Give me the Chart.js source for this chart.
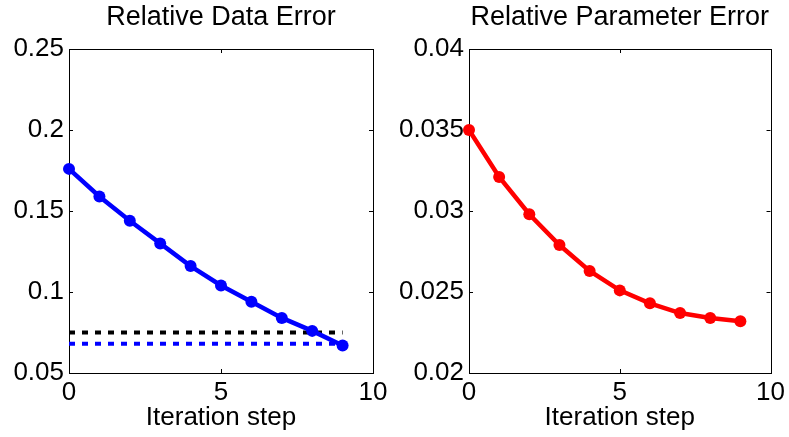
<!DOCTYPE html>
<html>
<head>
<meta charset="utf-8">
<script src="https://cdn.jsdelivr.net/npm/chart.js@4.4.0/dist/chart.umd.min.js"></script>
<style>
  html, body { margin: 0; padding: 0; background: #fff; }
  body { width: 789px; height: 437px; position: relative; overflow: hidden; }
  .box { position: absolute; top: 0; width: 400px; height: 437px; }
  #left { left: 0; }
  #right { left: 389px; }
</style>
</head>
<body>
<div class="box" id="left"><canvas id="chart-data"></canvas></div>
<div class="box" id="right"><canvas id="chart-param"></canvas></div>
<script>
'use strict';

// Values
var steps = [0, 1, 2, 3, 4, 5, 6, 7, 8, 9];
var dataError = [0.176, 0.159, 0.144, 0.130, 0.116, 0.104, 0.094, 0.084, 0.076, 0.067];
var dataLevelBlack = 0.075;
var dataLevelBlue = 0.068;
var paramError = [0.0350, 0.0321, 0.0298, 0.0279, 0.0263, 0.0251, 0.0243, 0.0237, 0.0234, 0.0232];

var xTicks = [0, 5, 10];
var dataTicks = [0.05, 0.1, 0.15, 0.2, 0.25];
var paramTicks = [0.02, 0.025, 0.03, 0.035, 0.04];

var FONT = 'Liberation Sans, Arial, Helvetica, sans-serif';
var FS = 26;
var TITLE_FS = 27;


// box round the plot area with small inward ticks, like MATLAB
var matlabAxes = {
  id: 'matlabAxes',
  beforeDatasetsDraw: function(chart) {
    var ctx = chart.ctx, a = chart.chartArea;
    var xs = chart.scales.x, ys = chart.scales.y;
    var len = 4;
    ctx.save();
    ctx.strokeStyle = '#000';
    ctx.lineWidth = 1;
    ctx.beginPath();
    xs.ticks.forEach(function(t) {
      var px = Math.round(xs.getPixelForValue(t.value)) + 0.5;
      ctx.moveTo(px, a.bottom); ctx.lineTo(px, a.bottom - len);
      ctx.moveTo(px, a.top); ctx.lineTo(px, a.top + len);
    });
    ys.ticks.forEach(function(t) {
      var py = Math.round(ys.getPixelForValue(t.value)) + 0.5;
      ctx.moveTo(a.left, py); ctx.lineTo(a.left + len, py);
      ctx.moveTo(a.right, py); ctx.lineTo(a.right - len, py);
    });
    ctx.stroke();
    ctx.strokeRect(Math.round(a.left) + 0.5, Math.round(a.top) + 0.5,
                   Math.round(a.right - a.left), Math.round(a.bottom - a.top));
    ctx.restore();
  }
};


function points(ys) {
  return steps.map(function(s, i) { return { x: s, y: ys[i] }; });
}

function level(v) {
  return steps.map(function(s) { return { x: s, y: v }; });
}

function makeChart(id, title, datasets, yTicks, yWidth, padRight) {
  return new Chart(document.getElementById(id), {
    type: 'line',
    data: { datasets: datasets },
    plugins: [matlabAxes],
    options: {
      responsive: true,
      maintainAspectRatio: false,
      animation: false,
      layout: { padding: { left: 0, right: padRight, top: 0, bottom: 0 } },
      plugins: {
        legend: { display: false },
        tooltip: { enabled: false },
        title: {
          display: true,
          text: title,
          fullSize: false,
          color: '#000',
          font: { family: FONT, size: TITLE_FS, weight: 'normal' },
          padding: { top: 1.8, bottom: 14.8 }
        }
      },
      scales: {
        x: {
          type: 'linear',
          min: 0,
          max: 10,
          afterBuildTicks: function(scale) {
            scale.ticks = xTicks.map(function(v) { return { value: v }; });
          },
          afterFit: function(scale) { scale.height = 64; },
          grid: { display: false, drawTicks: false },
          border: { display: false },
          ticks: {
            color: '#000',
            padding: 4,
            maxRotation: 0,
            font: { family: FONT, size: FS },
            callback: function(v) { return String(v); }
          },
          title: {
            display: true,
            text: 'Iteration step',
            color: '#000',
            font: { family: FONT, size: FS },
            padding: { top: 0, bottom: 3.4 }
          }
        },
        y: {
          type: 'linear',
          min: yTicks[0],
          max: yTicks[yTicks.length - 1],
          afterBuildTicks: function(scale) {
            scale.ticks = yTicks.map(function(v) { return { value: v }; });
          },
          afterFit: function(scale) { scale.width = yWidth; },
          grid: { display: false, drawTicks: false },
          border: { display: false },
          ticks: {
            color: '#000',
            padding: 5,
            font: { family: FONT, size: FS },
            callback: function(v) { return String(parseFloat(v.toFixed(4))); }
          }
        }
      }
    }
  });
}


// Left: Relative Data Error
makeChart('chart-data', 'Relative Data Error', [
  {
    data: points(dataError),
    borderColor: '#0000ff',
    backgroundColor: '#0000ff',
    borderWidth: 4.5,
    pointRadius: 6,
    pointBorderWidth: 0,
    tension: 0,
    clip: false
  },
  {
    data: level(dataLevelBlack),
    borderColor: '#000000',
    borderWidth: 4,
    borderDash: [6, 7],
    borderCapStyle: 'butt',
    pointRadius: 0,
    clip: false
  },
  {
    data: level(dataLevelBlue),
    borderColor: '#0000ff',
    borderWidth: 4,
    borderDash: [6, 7],
    borderCapStyle: 'butt',
    pointRadius: 0,
    clip: false
  }
], dataTicks, 69, 27);


// Right: Relative Parameter Error
makeChart('chart-param', 'Relative Parameter Error', [
  {
    data: points(paramError),
    borderColor: '#ff0000',
    backgroundColor: '#ff0000',
    borderWidth: 4.5,
    pointRadius: 6,
    pointBorderWidth: 0,
    tension: 0,
    clip: false
  }
], paramTicks, 80, 17);
</script>
</body>
</html>
